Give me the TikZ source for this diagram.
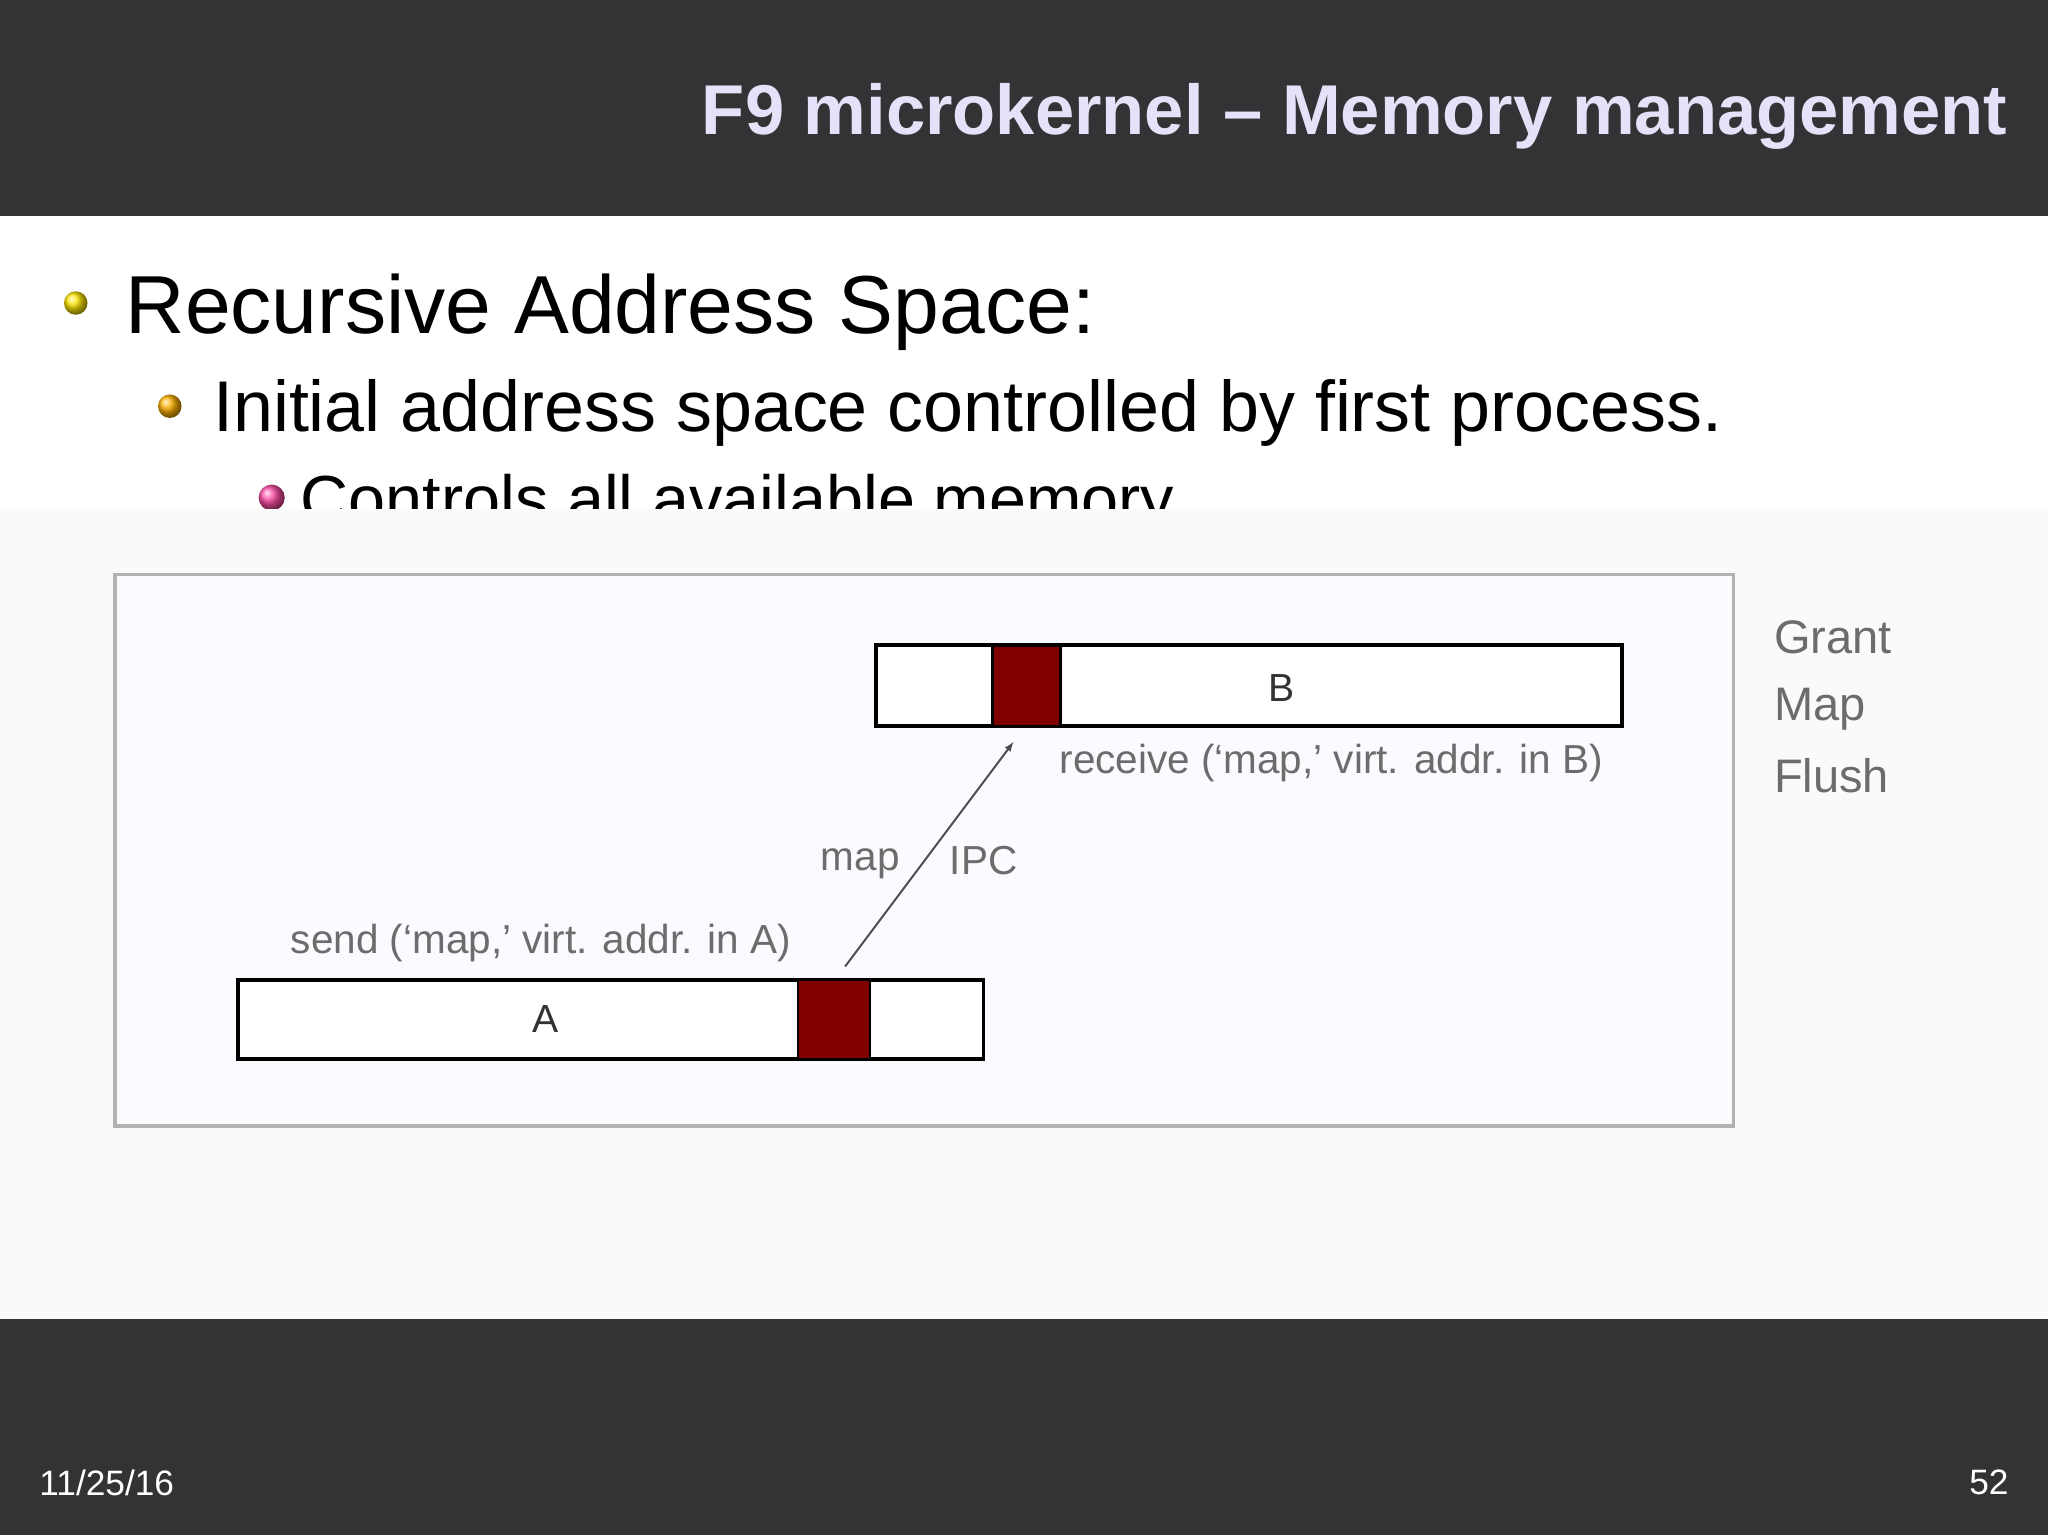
\documentclass[tikz,border=0pt]{standalone}
\usepackage{fontspec}
\setmainfont{Liberation Sans}
\begin{document}
\begin{tikzpicture}[x=1pt,y=-1pt,
  bar/.style={fill=barc,draw=none},
  mem/.style={draw=black,line width=3pt,fill=white},
  pg/.style={fill=pgred,draw=black,line width=2pt},
  lbl/.style={text=gray!85!black,font=\fontsize{31}{31}\selectfont,inner sep=0pt}]
\definecolor{barc}{HTML}{333335}
\definecolor{pgred}{HTML}{800000}
\definecolor{titc}{HTML}{E4E2F8}
\useasboundingbox (0,0) rectangle (1568,1175);
\fill[white] (0,0) rectangle (1568,1175);
\fill[bar] (0,0) rectangle (1568,165);
\fill[bar] (0,1010) rectangle (1568,1175);
\node[anchor=base east,text=titc,font=\bfseries\fontsize{54}{54}\selectfont,inner sep=0pt] (title) at (1537,103) {F9 microkernel – Memory management};
\shade[ball color=yellow!80!orange] (58,232) circle (9);
\node[anchor=base west,inner sep=0pt,font=\fontsize{63}{63}\selectfont] (b1) at (96,255) {Recursive Address Space:};
\shade[ball color=orange!60!yellow] (130,311) circle (9);
\node[anchor=base west,inner sep=0pt,font=\fontsize{55}{55}\selectfont] (b2) at (163,330) {Initial address space controlled by first process.};
\begin{scope}
\clip (0,340) rectangle (1568,390);
\shade[ball color=red!50!magenta!70] (208,381) circle (10);
\node[anchor=base west,inner sep=0pt,font=\fontsize{51}{51}\selectfont] (b3) at (230,400) {Controls all available memory.};
\end{scope}
\fill[black!2] (0,390) rectangle (1568,1010);
\draw[gray!60,line width=2.5pt,fill=white!98!blue] (88,440) rectangle (1327,862);
\draw[mem] (671,494) rectangle (1242,556);
\draw[pg] (760,494) rectangle (812,556);
\node[inner sep=0pt,font=\fontsize{30}{30}\selectfont,text=black!80] (B) at (981,527) {B};
\draw[mem] (182,750) rectangle (753,811);
\draw[pg] (611,750) rectangle (666,811);
\node[inner sep=0pt,font=\fontsize{30}{30}\selectfont,text=black!80] (A) at (418,780) {A};
\coordinate (s) at (647,740);
\coordinate (t) at (776,568);
\draw[-latex,line width=1.5pt,gray!60!black] (s) -- (t);
\node[lbl,anchor=west] (rcv) at (811,584) {receive (‘map,’ virt. addr. in B)};
\node[lbl,anchor=east] (map) at (689,661) {map};
\node[lbl,anchor=west] (ipc) at (727,659) {IPC};
\node[lbl,anchor=east] (snd) at (606,722) {send (‘map,’ virt. addr. in A)};
\node[lbl,anchor=west,font=\fontsize{36}{36}\selectfont] (g) at (1358,488) {Grant};
\node[lbl,anchor=west,font=\fontsize{36}{36}\selectfont] (m) at (1358,543) {Map};
\node[lbl,anchor=west,font=\fontsize{36}{36}\selectfont] (f) at (1358,594) {Flush};
\node[anchor=west,text=white,font=\fontsize{27}{27}\selectfont,inner sep=0pt] (d) at (30,1135) {11/25/16};
\node[anchor=east,text=white,font=\fontsize{27}{27}\selectfont,inner sep=0pt] (p) at (1538,1135) {52};
\end{tikzpicture}
\end{document}
